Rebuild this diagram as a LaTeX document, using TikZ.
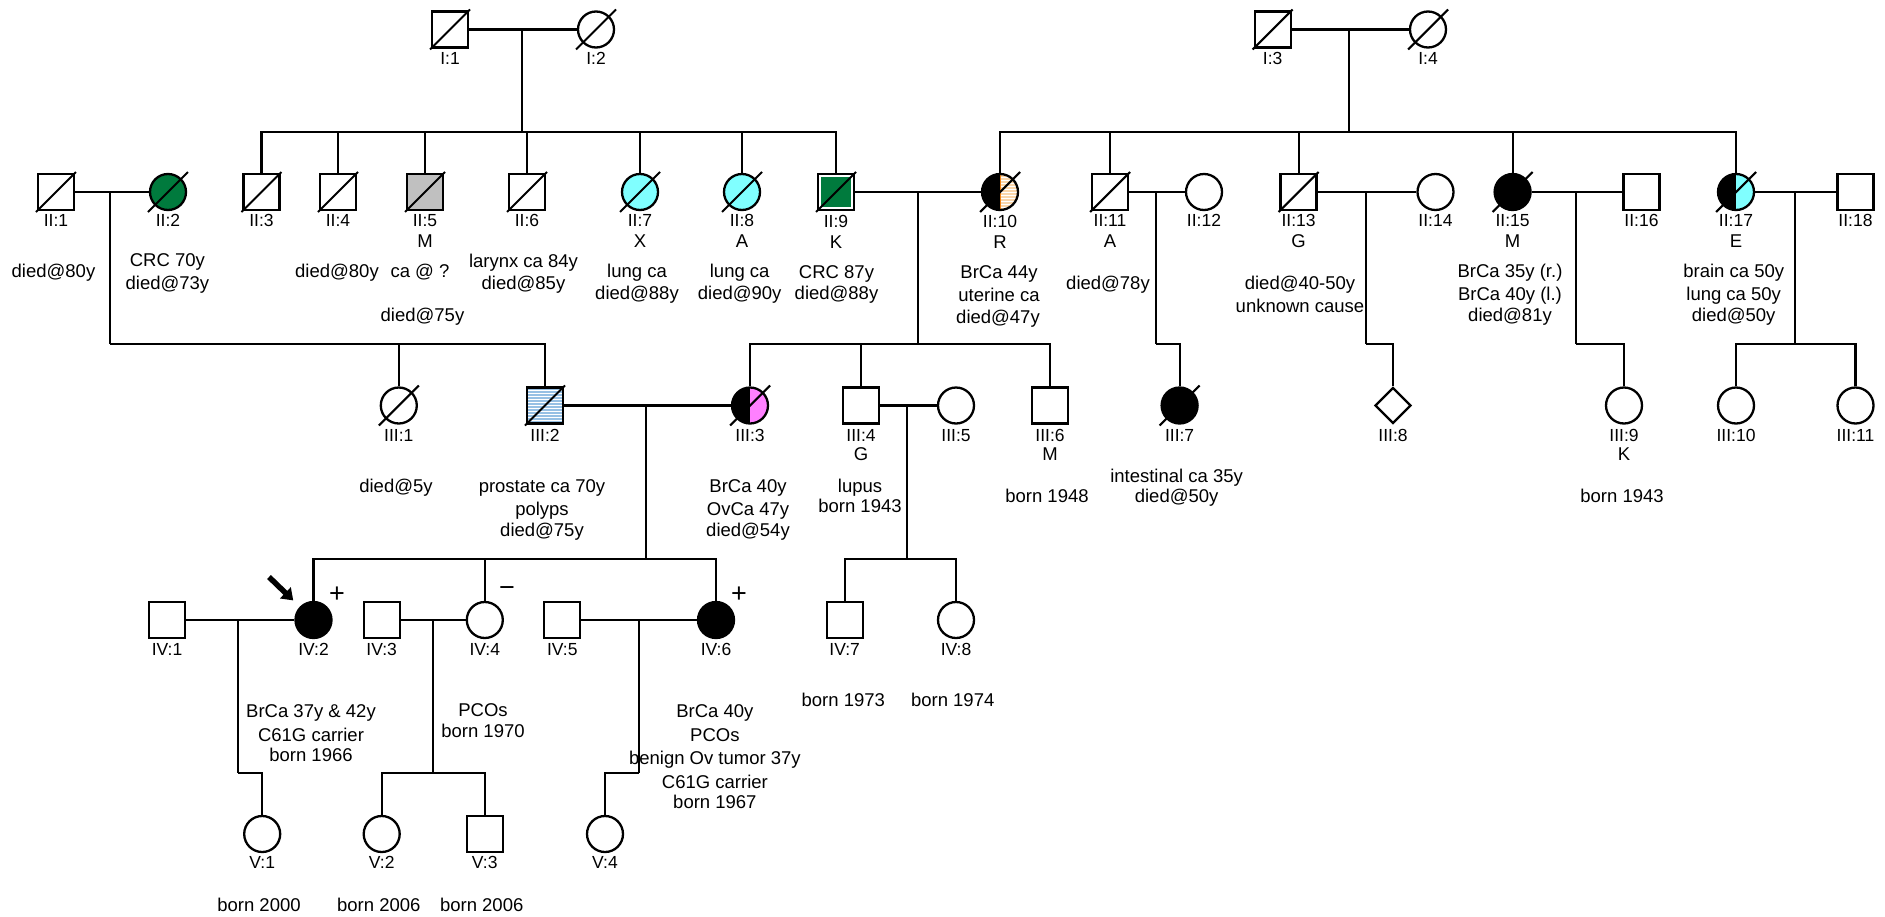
\documentclass[tikz,border=0pt]{standalone}
\usepackage{fontspec}
\setmainfont{Liberation Sans}
\usetikzlibrary{shapes.geometric,arrows.meta,calc}
\definecolor{dkgreen}{RGB}{0,122,61}
\definecolor{lcyan}{RGB}{128,255,255}
\definecolor{lgray}{RGB}{192,192,192}
\definecolor{lpink}{RGB}{255,128,255}
\definecolor{peach}{RGB}{250,214,170}
\definecolor{orng}{RGB}{240,130,20}
\definecolor{stripeblue}{RGB}{150,192,228}
\newcommand\plab[4]{\node[lbl] (#1) at (#2,#3+6.3) {#4};}
\newcommand\pann[4]{\node[ann] (#1) at (#2,#3+6) {#4};}
\begin{document}
\begin{tikzpicture}[x=1pt,y=-1pt,line width=2.1pt,
  font=\fontsize{18.5}{22}\selectfont,
  male/.style={draw, rectangle, minimum size=36pt, inner sep=0pt, line width=2.3pt, fill=white},
  female/.style={draw, circle, minimum size=36pt, inner sep=0pt, line width=2.3pt, fill=white},
  unk/.style={draw, diamond, aspect=1, minimum width=36pt, minimum height=36pt, inner sep=0pt, line width=2.3pt, fill=white},
  lbl/.style={anchor=base, inner sep=0pt, font=\fontsize{17.5}{20}\selectfont},
  ann/.style={anchor=base, inner sep=0pt},
  sign/.style={inner sep=0pt, font=\fontsize{27}{30}\selectfont},
  halfcyan/.style={path picture={
     \fill[lcyan] (path picture bounding box.north) rectangle (path picture bounding box.south east);
     \fill[black] (path picture bounding box.north west) rectangle (path picture bounding box.south);}},
  halfpink/.style={path picture={
     \fill[lpink] (path picture bounding box.north) rectangle (path picture bounding box.south east);
     \fill[black] (path picture bounding box.north west) rectangle (path picture bounding box.south);}},
  halfpeach/.style={path picture={
     \fill[peach] (path picture bounding box.north) rectangle (path picture bounding box.south east);
     \begin{scope}[shift={(path picture bounding box.center)}]
       \foreach \k in {-18,-15,...,18} \draw[white, line width=0.9pt] (0,\k) -- (20,\k);
     \end{scope}
     \draw[orng, line width=1.6pt] (path picture bounding box.north) -- (path picture bounding box.south);
     \fill[black] (path picture bounding box.north west) rectangle (path picture bounding box.south);}},
  bluestripes/.style={path picture={
     \begin{scope}[shift={(path picture bounding box.center)}]
       \foreach \k in {-16.5,-13.5,...,16.5} \draw[stripeblue, line width=1.5pt] (-20,\k) -- (20,\k);
     \end{scope}}},
  greeninset/.style={path picture={
     \fill[dkgreen] ($(path picture bounding box.north west)+(3.3,3.3)$) rectangle ($(path picture bounding box.south east)+(-3.3,-3.3)$);}},
  pointer/.style={line width=5.5pt, -{Triangle[length=11pt,width=15pt]}, shorten >=9pt}
]
\useasboundingbox (0,0) rectangle (1885,916);

% ---------- Generation I ----------
\node[male] (I1) at (450,29.5) {};
\node[female] (I2) at (596,29.5) {};
\node[male] (I3) at (1272.7,29.5) {};
\node[female] (I4) at (1428,29.5) {};

% ---------- Generation II ----------
\node[male] (II1) at (56,192) {};
\node[female, fill=dkgreen] (II2) at (168,192) {};
\node[male] (II3) at (261.5,192) {};
\node[male] (II4) at (338,192) {};
\node[male, fill=lgray] (II5) at (425,192) {};
\node[male] (II6) at (527,192) {};
\node[female, fill=lcyan] (II7) at (640,192) {};
\node[female, fill=lcyan] (II8) at (742,192) {};
\node[male, greeninset] (II9) at (836,192) {};
\node[female, halfpeach] (II10) at (1000,192) {};
\node[male] (II11) at (1110,192) {};
\node[female] (II12) at (1204,192) {};
\node[male] (II13) at (1298.6,192) {};
\node[female] (II14) at (1435.5,192) {};
\node[female, fill=black] (II15) at (1512.6,192) {};
\node[male] (II16) at (1641.5,192) {};
\node[female, halfcyan] (II17) at (1736,192) {};
\node[male] (II18) at (1855.5,192) {};

% ---------- Generation III ----------
\node[female] (III1) at (398.8,405.5) {};
\node[male, bluestripes] (III2) at (545,405.5) {};
\node[female, halfpink] (III3) at (750,405.5) {};
\node[male] (III4) at (861,405.5) {};
\node[female] (III5) at (956,405.5) {};
\node[male] (III6) at (1050,405.5) {};
\node[female, fill=black] (III7) at (1179.6,405.5) {};
\node[unk] (III8) at (1393,405.5) {};
\node[female] (III9) at (1624,405.5) {};
\node[female] (III10) at (1736,405.5) {};
\node[female] (III11) at (1855.5,405.5) {};

% ---------- Generation IV ----------
\node[male] (IV1) at (167,620) {};
\node[female, fill=black] (IV2) at (313.5,620) {};
\node[male] (IV3) at (381.7,620) {};
\node[female] (IV4) at (484.8,620) {};
\node[male] (IV5) at (562.3,620) {};
\node[female, fill=black] (IV6) at (716,620) {};
\node[male] (IV7) at (844.7,620) {};
\node[female] (IV8) at (956,620) {};

% ---------- Generation V ----------
\node[female] (V1) at (262.2,834) {};
\node[female] (V2) at (381.7,834) {};
\node[male] (V3) at (484.7,834) {};
\node[female] (V4) at (605,834) {};

% ---------- junction coordinates ----------
\coordinate (mI12) at (521.7,29.5);   \coordinate (sI12) at (521.7,131.7);
\coordinate (mI34) at (1349,29.5);    \coordinate (sI34) at (1349,131.7);
\coordinate (mII12) at (110.2,192);   \coordinate (sII12) at (110.2,344.3);
\coordinate (mII910) at (918.2,192);  \coordinate (sII910) at (918.2,344.3);
\coordinate (mII1112) at (1155.6,192);\coordinate (sII1112) at (1155.6,344.3);
\coordinate (mII1314) at (1366.3,192);\coordinate (sII1314) at (1366.3,344.3);
\coordinate (mII1516) at (1576,192);  \coordinate (sII1516) at (1576,344.3);
\coordinate (mII1718) at (1795.4,192);\coordinate (sII1718) at (1795.4,344.3);
\coordinate (mIII23) at (646.3,405.5);\coordinate (sIII23) at (646.3,559.3);
\coordinate (mIII45) at (907.3,405.5);\coordinate (sIII45) at (907.3,559.3);
\coordinate (mIV12) at (238,620);     \coordinate (sIV12) at (238,773.3);
\coordinate (mIV34) at (432.7,620);   \coordinate (sIV34) at (432.7,773.3);
\coordinate (mIV56) at (638.7,620);   \coordinate (sIV56) at (638.7,773.3);

% ---------- marriages ----------
\draw (I1) -- (I2);
\draw (I3) -- (I4);
\draw (II1) -- (II2);
\draw (II9) -- (II10);
\draw (II11) -- (II12);
\draw (II13) -- (II14);
\draw (II15) -- (II16);
\draw (II17) -- (II18);
\draw (III2) -- (III3);
\draw (III4) -- (III5);
\draw (IV1) -- (IV2);
\draw (IV3) -- (IV4);
\draw (IV5) -- (IV6);

% ---------- descent lines ----------
\foreach \m in {I12,I34,II12,II910,II1112,II1314,II1516,II1718,III23,III45,IV12,IV34,IV56}
  \draw (m\m) -- (s\m);
\foreach \c in {II3,II4,II5,II6,II7,II8,II9} \draw (\c.north) |- (sI12);
\foreach \c in {II10,II11,II13,II15,II17} \draw (\c.north) |- (sI34);
\foreach \c in {III1,III2} \draw (\c.north) |- (sII12);
\foreach \c in {III3,III4,III6} \draw (\c.north) |- (sII910);
\draw (III7.north) |- (sII1112);
\draw (III8.north) |- (sII1314);
\draw (III9.north) |- (sII1516);
\foreach \c in {III10,III11} \draw (\c.north) |- (sII1718);
\foreach \c in {IV2,IV4,IV6} \draw (\c.north) |- (sIII23);
\foreach \c in {IV7,IV8} \draw (\c.north) |- (sIII45);
\draw (V1.north) |- (sIV12);
\foreach \c in {V2,V3} \draw (\c.north) |- (sIV34);
\draw (V4.north) |- (sIV56);

% ---------- deceased slashes ----------
\foreach \c in {I1,I2,I3,I4,II1,II2,II3,II4,II5,II6,II7,II8,II9,II10,II11,II13,II15,II17,III1,III2,III3,III7}
  \draw (\c.center) ++(-20,20) -- ++(40,-40);

% ---------- proband arrow and test signs ----------
\coordinate (ptail) at (269,577);
\draw[pointer] (ptail) -- (IV2);
\node[sign] (plusIV2) at (337,595) {+};
\node[sign] (minusIV4) at (507,592) {−};
\node[sign] (plusIV6) at (739,595) {+};

% ---------- labels: generation I ----------
\plab{lI1}{450}{58.3}{I:1}
\plab{lI2}{596}{58.3}{I:2}
\plab{lI3}{1272.7}{58.3}{I:3}
\plab{lI4}{1428}{58.3}{I:4}

% ---------- labels: generation II ----------
\plab{lII1}{56}{220.5}{II:1}
\plab{lII2}{168}{220.5}{II:2}
\plab{lII3}{261.5}{220.5}{II:3}
\plab{lII4}{338}{220.5}{II:4}
\plab{lII5}{425}{220.5}{II:5}
\plab{lII6}{527}{220.5}{II:6}
\plab{lII7}{640}{220.5}{II:7}
\plab{lII8}{742}{220.5}{II:8}
\plab{lII9}{836}{221.5}{II:9}
\plab{lII10}{1000}{221.5}{II:10}
\plab{lII11}{1110}{220.5}{II:11}
\plab{lII12}{1204}{220.5}{II:12}
\plab{lII13}{1298.6}{220.5}{II:13}
\plab{lII14}{1435.5}{220.5}{II:14}
\plab{lII15}{1512.6}{220.5}{II:15}
\plab{lII16}{1641.5}{220.5}{II:16}
\plab{lII17}{1736}{220.5}{II:17}
\plab{lII18}{1855.5}{220.5}{II:18}
\pann{nII5}{425}{241}{M}
\pann{nII7}{640}{241}{X}
\pann{nII8}{742}{241}{A}
\pann{nII9}{836}{242}{K}
\pann{nII10}{1000}{242}{R}
\pann{nII11}{1110}{241}{A}
\pann{nII13}{1298.6}{241}{G}
\pann{nII15}{1512.6}{241}{M}
\pann{nII17}{1736}{241}{E}

\pann{aII1}{53.5}{271.7}{died@80y}
\pann{aII2a}{167.4}{260}{CRC 70y}
\pann{aII2b}{167.4}{283.3}{died@73y}
\pann{aII4}{337}{271.7}{died@80y}
\pann{aII5a}{420}{271.7}{ca @ ?}
\pann{aII5b}{422.5}{315}{died@75y}
\pann{aII6a}{523.5}{261}{larynx ca 84y}
\pann{aII6b}{523.5}{283.3}{died@85y}
\pann{aII7a}{637}{271.7}{lung ca}
\pann{aII7b}{637}{293.3}{died@88y}
\pann{aII8a}{739.7}{271.7}{lung ca}
\pann{aII8b}{739.7}{293.3}{died@90y}
\pann{aII9a}{836.5}{272.5}{CRC 87y}
\pann{aII9b}{836.5}{293.3}{died@88y}
\pann{aII10a}{999}{272.5}{BrCa 44y}
\pann{aII10b}{999}{295}{uterine ca}
\pann{aII10c}{998}{317.3}{died@47y}
\pann{aII11}{1108}{283.3}{died@78y}
\pann{aII13a}{1300}{283.3}{died@40-50y}
\pann{aII13b}{1300}{306}{unknown cause}
\pann{aII15a}{1510}{271.7}{BrCa 35y (r.)}
\pann{aII15b}{1510}{294}{BrCa 40y (l.)}
\pann{aII15c}{1510}{315.5}{died@81y}
\pann{aII17a}{1733.7}{271.7}{brain ca 50y}
\pann{aII17b}{1733.7}{294}{lung ca 50y}
\pann{aII17c}{1733.7}{315.5}{died@50y}

% ---------- labels: generation III ----------
\plab{lIII1}{398.8}{435}{III:1}
\plab{lIII2}{545}{435}{III:2}
\plab{lIII3}{750}{435}{III:3}
\plab{lIII4}{861}{435}{III:4}
\plab{lIII5}{956}{435}{III:5}
\plab{lIII6}{1050}{435}{III:6}
\plab{lIII7}{1179.6}{435}{III:7}
\plab{lIII8}{1393}{435}{III:8}
\plab{lIII9}{1624}{435}{III:9}
\plab{lIII10}{1736}{435}{III:10}
\plab{lIII11}{1855.5}{435}{III:11}
\pann{nIII4}{861}{454}{G}
\pann{nIII6}{1050}{454}{M}
\pann{nIII9}{1624}{454}{K}

\pann{aIII1}{396}{486.7}{died@5y}
\pann{aIII2a}{542}{486.7}{prostate ca 70y}
\pann{aIII2b}{542}{509}{polyps}
\pann{aIII2c}{542}{530.7}{died@75y}
\pann{aIII3a}{748}{486.7}{BrCa 40y}
\pann{aIII3b}{748}{509}{OvCa 47y}
\pann{aIII3c}{748}{530.7}{died@54y}
\pann{aIII4a}{860}{486}{lupus}
\pann{aIII4b}{860}{506.7}{born 1943}
\pann{aIII6}{1047}{496}{born 1948}
\pann{aIII7a}{1176.6}{476}{intestinal ca 35y}
\pann{aIII7b}{1176.6}{496}{died@50y}
\pann{aIII9}{1622}{496}{born 1943}

% ---------- labels: generation IV ----------
\plab{lIV1}{167}{649.3}{IV:1}
\plab{lIV2}{313.5}{649.3}{IV:2}
\plab{lIV3}{381.7}{649.3}{IV:3}
\plab{lIV4}{484.8}{649.3}{IV:4}
\plab{lIV5}{562.3}{649.3}{IV:5}
\plab{lIV6}{716}{649.3}{IV:6}
\plab{lIV7}{844.7}{649.3}{IV:7}
\plab{lIV8}{956}{649.3}{IV:8}

\pann{aIV2a}{311}{711.7}{BrCa 37y \& 42y}
\pann{aIV2b}{311}{735}{C61G carrier}
\pann{aIV2c}{311}{755}{born 1966}
\pann{aIV4a}{483}{710.7}{PCOs}
\pann{aIV4b}{483}{731}{born 1970}
\pann{aIV6a}{714.9}{711.7}{BrCa 40y}
\pann{aIV6b}{714.9}{735}{PCOs}
\pann{aIV6c}{714.9}{758.3}{benign Ov tumor 37y}
\pann{aIV6d}{714.9}{782.7}{C61G carrier}
\pann{aIV6e}{714.9}{802.7}{born 1967}
\pann{aIV7}{843.3}{700}{born 1973}
\pann{aIV8}{952.7}{700}{born 1974}

% ---------- labels: generation V ----------
\plab{lV1}{262.2}{861.7}{V:1}
\plab{lV2}{381.7}{861.7}{V:2}
\plab{lV3}{484.7}{861.7}{V:3}
\plab{lV4}{605}{861.7}{V:4}
\pann{aV1}{259}{905}{born 2000}
\pann{aV2}{378.8}{905}{born 2006}
\pann{aV3}{481.7}{905}{born 2006}
\end{tikzpicture}
\end{document}
